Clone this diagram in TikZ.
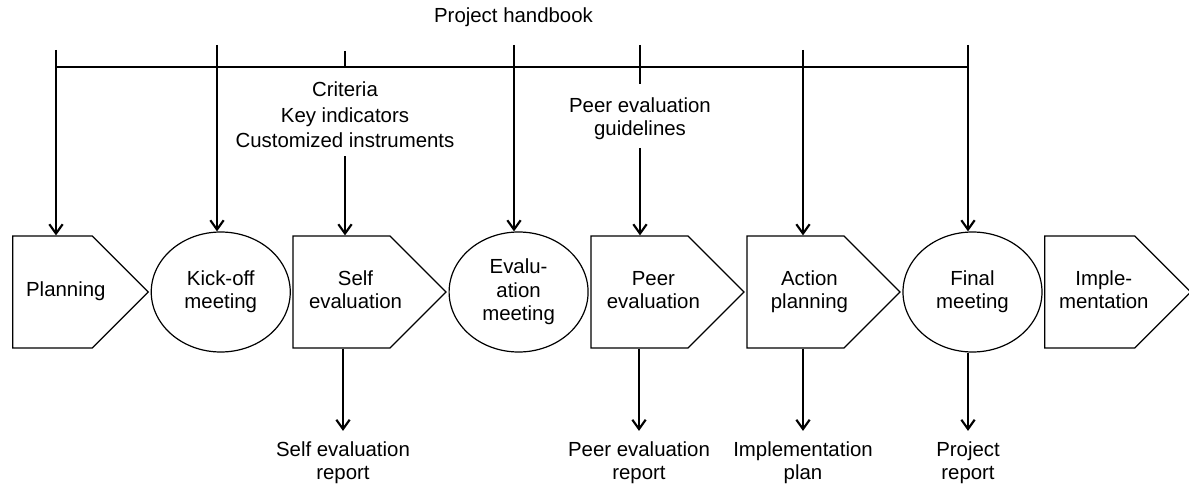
\documentclass[tikz,border=0pt]{standalone}
\usepackage{fontspec}
\setmainfont{Liberation Sans}
\usetikzlibrary{arrows.meta}
\usetikzlibrary{calc}
\usetikzlibrary{positioning}
\usetikzlibrary{shapes}

% text of a stage box, pushed a little to the right of the box body
\newcommand\stagetxt[2]{\hspace*{#1}\begin{tabular}{@{}c@{}}#2\end{tabular}\hspace*{-#1}}

\begin{document}
\begin{tikzpicture}[x=0.75pt,y=-0.75pt,
    font=\fontsize{15.3}{17.5}\selectfont,
    stage/.style={draw,signal,signal to=east,signal pointer angle=90,inner xsep=0pt,
      minimum height=84pt,minimum width=114.75pt,line width=0.9pt},
    meet/.style={draw,ellipse,minimum width=104.25pt,minimum height=90pt,
      inner sep=0pt,align=center,line width=0.9pt},
    handline/.style={line width=1.8pt},
    flow/.style={line width=1.6pt,-{Straight Barb[length=7pt,width=10pt]}},
    lbl/.style={align=center,inner sep=1pt},
    inlbl/.style={lbl,inner ysep=6pt},
    outlbl/.style={lbl,inner ysep=8pt},
    node distance=1.2pt]
  \useasboundingbox (0,0) rectangle (1189,485);

  % stages
  \node[stage,minimum width=100.5pt] (plan) at (52.5,292) {\stagetxt{10pt}{Planning}};
  \node[meet,right=of plan] (kick) {Kick-off\\meeting};
  \node[stage,right=of kick] (self) {\stagetxt{10.5pt}{Self\\evaluation}};
  \node[meet,right=of self] (evalm) {Evalu-\\ation\\meeting};
  \node[stage,right=of evalm] (peer) {\stagetxt{10.5pt}{Peer\\evaluation}};
  \node[stage,right=of peer] (act) {\stagetxt{10.5pt}{Action\\planning}};
  \node[meet,right=of act] (final) {Final\\meeting};
  \node[stage,minimum width=109.5pt,right=of final] (impl) {\stagetxt{10.5pt}{Imple-\\mentation}};

  % inputs
  \node[lbl] (hand) at (513.5,17) {Project handbook};
  \node[inlbl,font=\fontsize{15.3}{19}\selectfont] (crit) at (345,115)
    {Criteria\\Key indicators\\Customized instruments};
  \node[inlbl] (guide) at (640,118.5) {Peer evaluation\\guidelines};

  \coordinate (t1) at (56,50);
  \coordinate (t2) at (217,45);
  \coordinate (t3) at (345,51);
  \coordinate (t4) at (514,45);
  \coordinate (t5) at (640,45);
  \coordinate (t5b) at (640,84);
  \coordinate (t6) at (803,50);
  \coordinate (t7) at (968,45);
  \coordinate (barL) at (56,67);
  \coordinate (barR) at (968,67);

  \draw[handline] (barL) -- (barR);
  \draw[handline] (t3) -- (t3 |- barL);
  \draw[handline] (t5) -- (t5b);
  \draw[flow] (t1) -- (t1 |- plan.north);
  \draw[flow] (t2) -- (t2 |- kick.north);
  \draw[flow] (crit.south) -- (crit.south |- self.north);
  \draw[flow] (t4) -- (t4 |- evalm.north);
  \draw[flow] (guide.south) -- (guide.south |- peer.north);
  \draw[flow] (t6) -- (t6 |- act.north);
  \draw[flow] (t7) -- (t7 |- final.north);

  % outputs
  \node[outlbl] (selfrep) at (343,463) {Self evaluation\\report};
  \node[outlbl] (peerrep) at (639,463) {Peer evaluation\\report};
  \node[outlbl] (implplan) at (803,463) {Implementation\\plan};
  \node[outlbl] (projrep) at (968,463) {Project\\report};

  \draw[flow] (selfrep.north |- self.south) -- (selfrep.north);
  \draw[flow] (peerrep.north |- peer.south) -- (peerrep.north);
  \draw[flow] (implplan.north |- act.south) -- (implplan.north);
  \draw[flow] (projrep.north |- final.south) -- (projrep.north);
\end{tikzpicture}
\end{document}
